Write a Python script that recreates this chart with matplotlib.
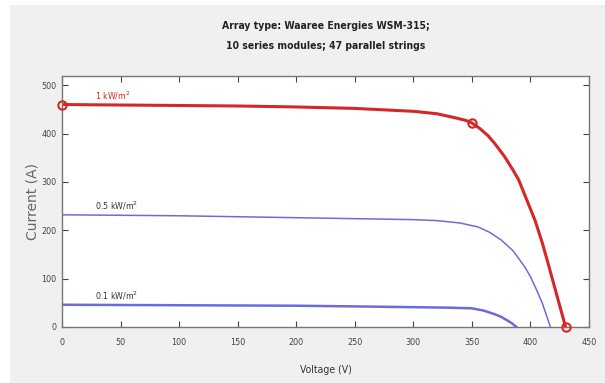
import matplotlib
matplotlib.use("Agg")
import matplotlib.pyplot as plt
from matplotlib.patches import Rectangle

# ---- data ----
v_1000 = [0, 50, 100, 150, 200, 250, 300, 320, 335, 345, 350, 357, 364, 370, 378, 385,
          390, 398, 404, 410, 415, 420, 425, 430]
i_1000 = [460, 459, 458, 457, 455, 452, 446, 441, 433, 427, 422, 410, 395, 378, 352, 325,
          304, 256, 220, 175, 132, 88, 44, 0]

v_500 = [0, 50, 100, 150, 200, 250, 300, 320, 340, 355, 365, 375, 385, 395, 400, 405,
         410, 414, 417]
i_500 = [232, 231, 230, 228, 226, 224, 222, 220, 215, 207, 196, 180, 158, 125, 104, 78,
         50, 22, 0]

v_100 = [0, 100, 200, 270, 300, 330, 350, 360, 370, 375, 380, 384, 388]
i_100 = [46, 45, 44, 42, 41, 40, 38.6, 34, 26, 21, 14, 8, 0]

mark_v = [0, 350, 430]
mark_i = [460, 422, 0]

labels = ["1 kW/m$^2$", "0.5 kW/m$^2$", "0.1 kW/m$^2$"]
label_v = [28, 28, 28]
label_i = [466, 238, 52]

xticks = [0, 50, 100, 150, 200, 250, 300, 350, 400, 450]
yticks = [0, 100, 200, 300, 400, 500]

title_lines = ["Array type: Waaree Energies WSM-315;", "10 series modules; 47 parallel strings"]

narrow = ["Liberation Sans Narrow", "DejaVu Sans Condensed", "DejaVu Sans"]
nkw = dict(family=narrow, fontstretch="condensed")

fig = plt.figure(figsize=(6.05, 3.83), dpi=100, facecolor="white")
fig.patches.append(Rectangle((10 / 605, 0), 1, 1 - 5 / 383, transform=fig.transFigure,
                             facecolor="#f0f0f0", edgecolor="none", zorder=-10))
ax = fig.add_axes([62 / 605, 1 - 327 / 383, (589 - 62) / 605, (327 - 76) / 383])
ax.set_facecolor("white")

ax.plot(v_500, i_500, color="#6b6bdb", lw=1.1)
ax.plot(v_100, i_100, color="#6b6bdb", lw=1.8)
ax.plot(v_1000, i_1000, color="#d42828", lw=2.2)
ax.plot(mark_v, mark_i, linestyle="none", marker="o", markersize=6, mfc="none",
        mec="#d42828", mew=1.5, clip_on=False, zorder=5)

colors = ["#d42828", "#333333", "#333333"]
for t, x, y, c in zip(labels, label_v, label_i, colors):
    ax.text(x, y, t, color=c, fontsize=6.3, ha="left", va="bottom", **nkw)

ax.set_xlim(0, 450)
ax.set_ylim(0, 519)
ax.set_xticks(xticks)
ax.set_yticks(yticks)
ax.tick_params(direction="in", top=True, right=True, labelsize=6.5, colors="#444444",
               length=4, width=0.8)
ax.tick_params(axis="x", pad=8)
ax.tick_params(axis="y", pad=4)
for lab in ax.get_xticklabels() + ax.get_yticklabels():
    lab.set_family(narrow)
    lab.set_fontstretch("condensed")
for s in ax.spines.values():
    s.set_color("#777777")
    s.set_linewidth(1.0)

ax.set_xlabel("Voltage (V)", fontsize=7.5, color="#333333", labelpad=13, **nkw)
ax.set_ylabel("Current (A)", fontsize=10, color="#666666", labelpad=1)
for k, line in enumerate(title_lines):
    fig.text(326 / 605, 1 - (25.7 + 20 * k) / 383, line, ha="center", va="center",
             fontsize=7.5, fontweight="bold", color="#222222", **nkw)

fig.savefig("out.png", dpi=100, facecolor=fig.get_facecolor())
